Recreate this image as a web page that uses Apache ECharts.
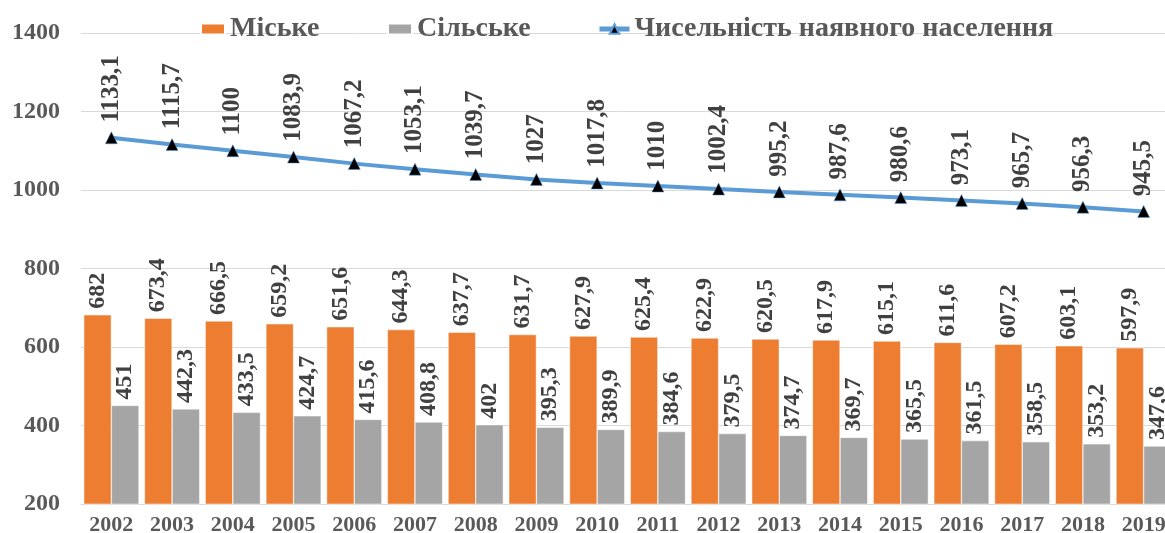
<!DOCTYPE html>
<html>
<head>
<meta charset="utf-8">
<script src="https://cdn.jsdelivr.net/npm/echarts@6/dist/echarts.min.js"></script>
<style>
  html, body { margin: 0; padding: 0; background: #fff; }
  #chart { width: 1165px; height: 533px; }
</style>
</head>
<body>
<div id="chart"></div>
<script>
// роки
var years = ['2002', '2003', '2004', '2005', '2006', '2007', '2008', '2009', '2010',
  '2011', '2012', '2013', '2014', '2015', '2016', '2017', '2018', '2019'];
// Міське населення
var urban = [682, 673.4, 666.5, 659.2, 651.6, 644.3, 637.7, 631.7, 627.9,
  625.4, 622.9, 620.5, 617.9, 615.1, 611.6, 607.2, 603.1, 597.9];
// Сільське населення
var rural = [451, 442.3, 433.5, 424.7, 415.6, 408.8, 402, 395.3, 389.9,
  384.6, 379.5, 374.7, 369.7, 365.5, 361.5, 358.5, 353.2, 347.6];
// Чисельність наявного населення
var total = [1133.1, 1115.7, 1100, 1083.9, 1067.2, 1053.1, 1039.7, 1027, 1017.8,
  1010, 1002.4, 995.2, 987.6, 980.6, 973.1, 965.7, 956.3, 945.5];

var serif = '"Liberation Serif", "Times New Roman", serif';
var fmt = function (p) { return String(p.value).replace('.', ','); };

var vLabel = function (dist, size) {
  return {
    show: true,
    position: 'top',
    rotate: 90,
    align: 'left',
    verticalAlign: 'middle',
    distance: dist,
    color: '#404040',
    fontFamily: serif,
    fontWeight: 'bold',
    fontSize: size,
    formatter: fmt
  };
};

var legendText = { fontFamily: serif, fontWeight: 'bold', fontSize: 28, color: '#595959' };

var myChart = echarts.init(document.getElementById('chart'));
myChart.setOption({
  backgroundColor: '#fff',
  animation: false,
  legend: [
    { top: 10, left: 195, itemWidth: 24, itemHeight: 11, textStyle: legendText,
      data: [{ name: 'Міське', icon: 'rect' }] },
    { top: 10, left: 382, itemWidth: 24, itemHeight: 11, textStyle: legendText,
      data: [{ name: 'Сільське', icon: 'rect' }] },
    { top: 10, left: 592, itemWidth: 30, itemHeight: 12, textStyle: legendText,
      lineStyle: { width: 5 },
      data: [{ name: 'Чисельність наявного населення' }] }
  ],
  grid: { left: 81, right: -9, top: 33, bottom: 29, outerBoundsMode: 'none' },
  xAxis: {
    type: 'category',
    data: years,
    axisTick: { show: false },
    axisLine: { lineStyle: { color: '#D9D9D9', width: 1 } },
    axisLabel: { fontFamily: serif, fontWeight: 'bold', fontSize: 22, color: '#595959', margin: 10 }
  },
  yAxis: {
    type: 'value',
    min: 200,
    max: 1400,
    interval: 200,
    axisLine: { show: false },
    axisTick: { show: false },
    splitLine: { lineStyle: { color: '#D9D9D9', width: 1 } },
    axisLabel: {
      fontFamily: serif, fontWeight: 'bold', fontSize: 24, color: '#595959', margin: 21,
      formatter: function (v) { return String(v); }
    }
  },
  series: [
    {
      name: 'Міське',
      type: 'bar',
      data: urban,
      barGap: '0%',
      barCategoryGap: '9%',
      itemStyle: { color: '#ED7D31', borderColor: '#fff', borderWidth: 0.5 },
      label: vLabel(6, 24)
    },
    {
      name: 'Сільське',
      type: 'bar',
      data: rural,
      itemStyle: { color: '#A5A5A5', borderColor: '#fff', borderWidth: 0.5 },
      label: vLabel(6, 24)
    },
    {
      name: 'Чисельність наявного населення',
      type: 'line',
      data: total,
      symbol: 'triangle',
      symbolSize: 12,
      lineStyle: { color: '#5B9BD5', width: 4 },
      itemStyle: { color: '#000', borderColor: '#5B9BD5', borderWidth: 0.5 },
      label: vLabel(9, 25),
      z: 5
    }
  ]
});
</script>
</body>
</html>
